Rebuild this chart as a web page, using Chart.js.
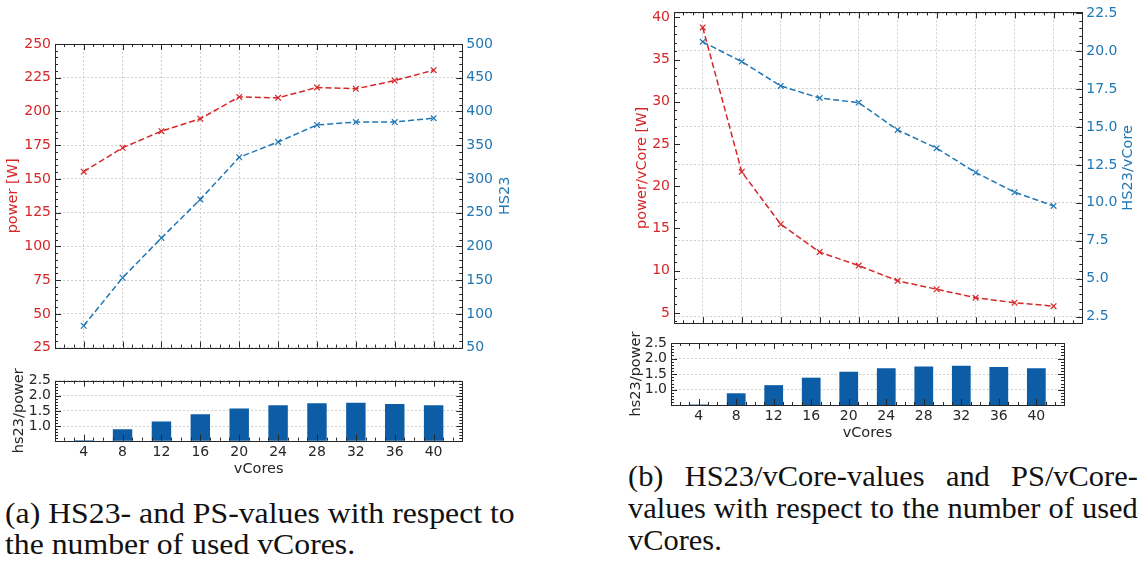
<!DOCTYPE html>
<html>
<head>
<meta charset="utf-8">
<script src="https://cdn.jsdelivr.net/npm/chart.js@4.4.1/dist/chart.umd.min.js"></script>
<style>
  html, body { margin: 0; padding: 0; background: #fff; width: 1143px; height: 563px; overflow: hidden; }
  .box { position: absolute; }
  canvas { display: block; }
  .cap { position: absolute; font-family: "Liberation Serif", "Times New Roman", serif; font-size: 29px; line-height: 31px; color: #111; white-space: nowrap; transform-origin: 0 0; }
  .cap .j { text-align: justify; text-align-last: justify; }
</style>
</head>
<body>
<div class="box" style="left:0;top:0;width:560px;height:360px"><canvas id="aMain" width="560" height="360"></canvas></div>
<div class="box" style="left:0;top:360px;width:560px;height:120px"><canvas id="aBar" width="560" height="120"></canvas></div>
<div class="box" style="left:580px;top:0;width:563px;height:340px"><canvas id="bMain" width="563" height="340"></canvas></div>
<div class="box" style="left:580px;top:330px;width:563px;height:120px"><canvas id="bBar" width="563" height="120"></canvas></div>

<div class="cap" style="left:5px;top:498px;transform:scaleX(1.095);">(a) HS23- and PS-values with respect to<br>the number of used vCores.</div>
<div class="cap" style="left:628px;top:460px;width:486px;line-height:32px;transform:scaleX(1.049);">
  <div class="j">(b) HS23/vCore-values and PS/vCore-</div>
  <div class="j">values with respect to the number of used</div>
  <div>vCores.</div>
</div>

<script>
// measurements per number of virtual cores
const vCores = [4, 8, 12, 16, 20, 24, 28, 32, 36, 40];
const powerW = [155.4, 173.1, 185.4, 194.6, 210.8, 210.1, 217.8, 216.8, 222.9, 230.6];
const hs23 = [82.4, 153.5, 212.6, 269.7, 332.1, 354.8, 380.0, 384.3, 384.3, 390.1];
const hs23PerPower = [0.53, 0.89, 1.15, 1.39, 1.58, 1.69, 1.75, 1.77, 1.73, 1.69];
const powerPerCore = [38.8, 21.7, 15.5, 12.2, 10.6, 8.8, 7.8, 6.8, 6.2, 5.8];
const hs23PerCore = [20.6, 19.3, 17.7, 16.9, 16.6, 14.8, 13.6, 12.0, 10.7, 9.8];

const RED = '#d62728';
const BLUE = '#1f77b4';
const BAR = '#0C5DA5';
const INK = '#262626';
const GRID = '#c4c4c4';
const FONT = { family: 'DejaVu Sans', size: 14 };
const TITLE_SIZE = 14.5;

const pts = (ys) => vCores.map((x, i) => ({ x, y: ys[i] }));

// frame, inward major/minor ticks on every side, and rotated y titles
const framePlugin = {
  id: 'frame',
  afterDraw(chart, args, opts) {
    const { ctx, chartArea: a } = chart;
    ctx.save();
    ctx.strokeStyle = INK;
    ctx.lineWidth = 1;
    for (const ax of opts.axes || []) {
      const s = chart.scales[ax.id];
      const start = Math.ceil(s.min / ax.minor - 1e-9);
      for (let k = start; k * ax.minor <= s.max + 1e-9; k++) {
        const v = k * ax.minor;
        const r = v / ax.major;
        const len = Math.abs(r - Math.round(r)) < 1e-6 ? 6 : 3;
        const p = Math.round(s.getPixelForValue(v)) + 0.5;
        ctx.beginPath();
        if (s.isHorizontal()) {
          ctx.moveTo(p, a.bottom); ctx.lineTo(p, a.bottom - len);
          ctx.moveTo(p, a.top); ctx.lineTo(p, a.top + len);
        } else {
          if (ax.side !== 'right') { ctx.moveTo(a.left, p); ctx.lineTo(a.left + len, p); }
          if (ax.side !== 'left') { ctx.moveTo(a.right, p); ctx.lineTo(a.right - len, p); }
        }
        ctx.stroke();
      }
    }
    ctx.strokeRect(Math.round(a.left) + 0.5, Math.round(a.top) + 0.5,
                   Math.round(a.right - a.left), Math.round(a.bottom - a.top));
    ctx.font = `${TITLE_SIZE}px "${FONT.family}"`;
    ctx.textAlign = 'center';
    ctx.textBaseline = 'middle';
    for (const t of opts.titles || []) {
      const s = chart.scales[t.id];
      const x = t.side === 'left' ? s.left + t.offset : s.right - t.offset;
      ctx.save();
      ctx.translate(x, (a.top + a.bottom) / 2);
      ctx.rotate(-Math.PI / 2);
      ctx.fillStyle = t.color;
      ctx.fillText(t.text, 0, 0);
      ctx.restore();
    }
    ctx.restore();
  }
};

function yScale(pos, min, max, step, color, width, gridOn, digits) {
  return {
    type: 'linear', position: pos, min, max,
    afterFit: (s) => { s.width = width; },
    grid: { display: gridOn, drawTicks: false, color: GRID, lineWidth: 0.8 },
    border: { display: false, dash: [2, 2] },
    ticks: {
      stepSize: step, includeBounds: false, color, font: FONT, padding: 4,
      callback: (v) => digits ? Number(v).toFixed(digits) : String(v)
    }
  };
}

function xScale(labels, height, titlePad) {
  const sc = {
    type: 'linear', min: 1.05, max: 42.95, offset: false,
    afterFit: (s) => { s.height = height; },
    grid: { display: !labels, drawTicks: false, color: GRID, lineWidth: 0.8, offset: false },
    border: { display: false, dash: [2, 2] },
    ticks: { stepSize: 4, includeBounds: false, display: labels, color: INK, font: FONT, padding: 3 }
  };
  if (labels) {
    sc.title = { display: true, text: 'vCores', color: INK, font: { family: FONT.family, size: TITLE_SIZE }, padding: { top: 0, bottom: titlePad } };
  }
  return sc;
}

function lineSet(data, color, axis) {
  return {
    type: 'line', data: pts(data), yAxisID: axis,
    borderColor: color, backgroundColor: color, borderWidth: 1.5, borderDash: [6, 3],
    pointStyle: 'crossRot', pointRadius: 4, pointBorderWidth: 1.2, pointBorderColor: color,
    fill: false, tension: 0
  };
}

function baseOptions(padding) {
  return {
    responsive: false, animation: false, events: [],
    layout: { padding, autoPadding: false },
    plugins: { legend: { display: false }, tooltip: { enabled: false } }
  };
}

function mainChart(id, cfg) {
  const o = baseOptions(cfg.padding);
  o.scales = {
    x: xScale(false, 0, 0),
    y: yScale('left', cfg.left.min, cfg.left.max, cfg.left.step, RED, cfg.left.width, false, cfg.left.digits),
    y1: yScale('right', cfg.right.min, cfg.right.max, cfg.right.step, BLUE, cfg.right.width, true, cfg.right.digits)
  };
  o.plugins.frame = {
    axes: [
      { id: 'x', major: 4, minor: 1 },
      { id: 'y', side: 'left', major: cfg.left.step, minor: cfg.left.minor },
      { id: 'y1', side: 'right', major: cfg.right.step, minor: cfg.right.minor }
    ],
    titles: [
      { id: 'y', side: 'left', offset: cfg.left.titleOffset, text: cfg.left.title, color: RED },
      { id: 'y1', side: 'right', offset: cfg.right.titleOffset, text: cfg.right.title, color: BLUE }
    ]
  };
  new Chart(document.getElementById(id), {
    data: { datasets: [lineSet(cfg.redData, RED, 'y'), lineSet(cfg.blueData, BLUE, 'y1')] },
    options: o,
    plugins: [framePlugin]
  });
}

function barChart(id, cfg) {
  const o = baseOptions(cfg.padding);
  o.scales = {
    x: xScale(true, cfg.xHeight, cfg.titlePad),
    y: yScale('left', 0.515, 2.5, 0.5, INK, cfg.leftWidth, true, 1)
  };
  o.plugins.frame = {
    axes: [
      { id: 'x', major: 4, minor: 1 },
      { id: 'y', side: 'both', major: 0.5, minor: 0.1 }
    ],
    titles: [{ id: 'y', side: 'left', offset: cfg.titleOffset, text: 'hs23/power', color: INK }]
  };
  new Chart(document.getElementById(id), {
    type: 'bar',
    data: { datasets: [{ data: pts(hs23PerPower), backgroundColor: BAR, borderWidth: 0,
                         barPercentage: 0.5, categoryPercentage: 1.0 }] },
    options: o,
    plugins: [framePlugin]
  });
}

mainChart('aMain', {
  padding: { left: 0, right: 0, top: 44, bottom: 6 },
  redData: powerW, blueData: hs23,
  left: { min: 25, max: 250, step: 25, minor: 5, width: 55, title: 'power [W]', titleOffset: 13.5 },
  right: { min: 50, max: 500, step: 50, minor: 10, width: 97.7, title: 'HS23', titleOffset: 55 }
});

barChart('aBar', {
  padding: { left: 0, right: 97.7, top: 20.7, bottom: 0 },
  xHeight: 39.3, titlePad: 2.3, leftWidth: 55, titleOffset: 19
});

mainChart('bMain', {
  padding: { left: 0, right: 0, top: 7.3, bottom: 16.7 },
  redData: powerPerCore, blueData: hs23PerCore,
  left: { min: 3.77, max: 40.58, step: 5, minor: 1, width: 94, title: 'power/vCore [W]', titleOffset: 62 },
  right: { min: 2.07, max: 22.54, step: 2.5, minor: 0.5, width: 60.7, digits: 1, title: 'HS23/vCore', titleOffset: 14.5 }
});

barChart('bBar', {
  padding: { left: 0, right: 79, top: 13, bottom: 0 },
  xHeight: 45, titlePad: 8.3, leftWidth: 91, titleOffset: 56.7
});
</script>
</body>
</html>
